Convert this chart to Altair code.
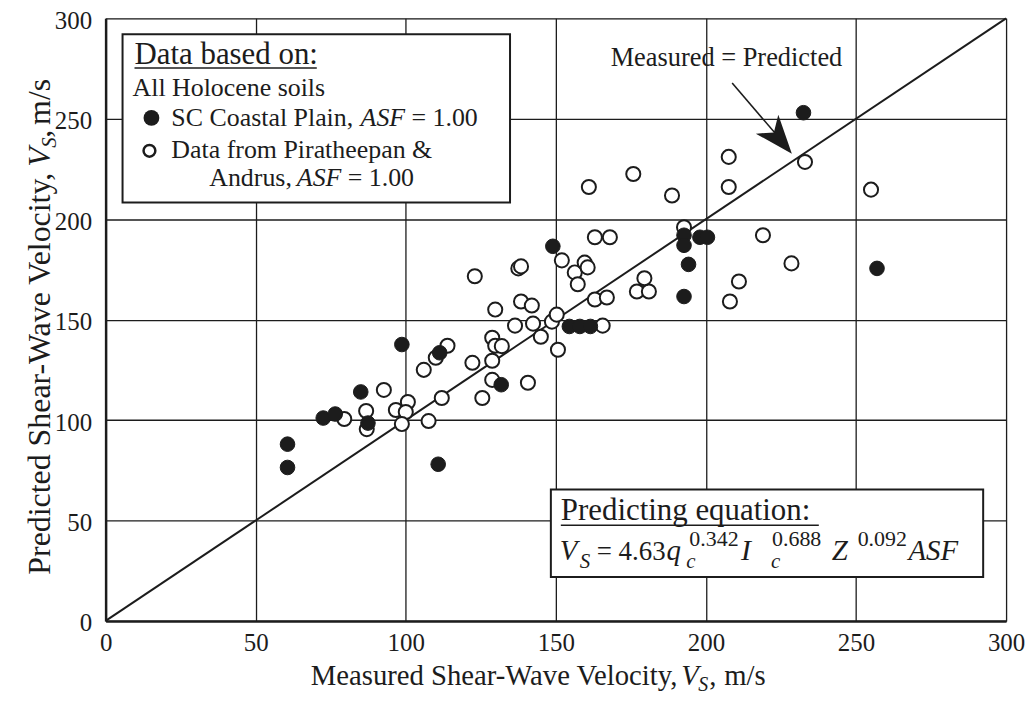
import altair as alt
import pandas as pd

# ---------------- data ----------------
sc_x = [60.6, 60.6, 72.5, 76.5, 85.0, 87.4, 98.7, 110.8, 111.3, 131.8, 149.0,
        154.5, 158.0, 161.5, 192.7, 192.7, 198.0, 200.5, 194.2, 192.7, 232.5, 257.0]
sc_y = [88.0, 76.4, 101.0, 103.0, 114.0, 98.5, 137.6, 78.0, 133.5, 117.6, 186.5,
        146.6, 146.6, 146.6, 192.0, 187.0, 191.0, 191.0, 177.5, 161.5, 253.0, 175.5]

pa_x = [79.5, 86.8, 87.0, 92.7, 96.7, 100.7, 100.0, 98.7, 107.6, 106.0,
        110.0, 113.9, 112.0, 122.2, 125.5, 128.8, 128.8, 128.8, 129.8, 132.0,
        140.7, 123.0, 137.5, 138.4, 129.8, 138.4, 142.0, 136.4, 142.4, 145.0,
        148.7, 150.3, 150.7, 165.6, 152.0, 156.3, 159.6, 160.6, 157.3, 163.0,
        168.0, 163.0, 167.0, 177.0, 181.0, 179.5, 207.6, 207.6, 175.8, 161.0,
        188.7, 192.7, 219.0, 228.5, 211.0, 208.0, 233.0, 255.0]
pa_y = [100.5, 104.5, 95.5, 115.0, 105.0, 109.0, 104.0, 98.0, 99.5, 125.0,
        131.0, 137.0, 111.0, 128.5, 111.0, 120.0, 129.5, 141.0, 137.0, 136.8,
        118.6, 171.6, 175.5, 176.5, 155.0, 159.0, 157.0, 147.0, 148.0, 141.5,
        149.0, 152.5, 135.0, 147.0, 179.5, 173.5, 178.4, 176.0, 167.6, 191.0,
        191.0, 160.0, 161.0, 164.0, 164.0, 170.6, 231.0, 216.0, 222.5, 216.0,
        211.8, 196.0, 192.0, 178.0, 169.0, 159.0, 228.5, 214.7]

line_x = [0, 300]
line_y = [0, 300]
ticks = [0, 50, 100, 150, 200, 250, 300]

# ---------------- styling ----------------
FONT = "Liberation Serif"
INK = "#1c1c1c"
X0, Y0 = 106, 17  # plot origin on the page


def px(v):
    return v - X0


def py(v):
    return v - Y0


one = pd.DataFrame({"k": [0]})


def txt(s, x, y, size, italic=False, align="left", angle=0):
    mk = dict(text=s, font=FONT, fontSize=size, align=align,
              baseline="alphabetic", color=INK)
    if italic:
        mk["fontStyle"] = "italic"
    if angle:
        mk["angle"] = angle
    return alt.Chart(one).mark_text(**mk).encode(x=alt.value(px(x)), y=alt.value(py(y)))


def hline(x1, x2, y, w=1.5):
    return alt.Chart(one).mark_rule(color=INK, strokeWidth=w).encode(
        x=alt.value(px(x1)), x2=alt.value(px(x2)), y=alt.value(py(y)))


def box(x1, y1, x2, y2):
    return alt.Chart(one).mark_rect(fill="white", stroke=INK, strokeWidth=2).encode(
        x=alt.value(px(x1)), x2=alt.value(px(x2)),
        y=alt.value(py(y1)), y2=alt.value(py(y2)))


xscale = alt.Scale(domain=[0, 300], nice=False)
yscale = alt.Scale(domain=[0, 300], nice=False)
xaxis = alt.Axis(values=ticks, grid=True, gridColor=INK, gridWidth=1.3, gridOpacity=1,
                 domainColor=INK, domainWidth=2.5, ticks=False, labelFont=FONT,
                 labelFontSize=25, labelColor=INK, labelPadding=10, labelFlush=False,
                 title=None, format="d")
yaxis = alt.Axis(values=ticks, grid=True, gridColor=INK, gridWidth=1.3, gridOpacity=1,
                 domainColor=INK, domainWidth=2.5, ticks=False, labelFont=FONT,
                 labelFontSize=25, labelColor=INK, labelPadding=14, labelFlush=False,
                 labelOffset=2, title=None, format="d")
X = alt.X("x:Q", scale=xscale, axis=xaxis)
Y = alt.Y("y:Q", scale=yscale, axis=yaxis)

diag = alt.Chart(pd.DataFrame({"x": line_x, "y": line_y})).mark_line(
    color=INK, strokeWidth=2).encode(x=X, y=Y)

open_pts = alt.Chart(pd.DataFrame({"x": pa_x, "y": pa_y})).mark_point(
    shape="circle", size=200, filled=True, fill="white", stroke=INK, strokeWidth=2,
    opacity=1).encode(x=X, y=Y)

filled_pts = alt.Chart(pd.DataFrame({"x": sc_x, "y": sc_y})).mark_point(
    shape="circle", size=215, filled=True, fill=INK, stroke=INK, strokeWidth=1,
    opacity=1).encode(x=X, y=Y)

layers = [diag, open_pts, filled_pts]

# ---- legend box ----
layers += [
    box(123, 33, 512, 202),
    txt("Data based on:", 135, 63, 31),
    hline(135, 318, 67),
    txt("All Holocene soils", 133, 95, 26),
    alt.Chart(one).mark_point(shape="circle", size=250, filled=True, fill=INK,
                              opacity=1).encode(x=alt.value(px(152)), y=alt.value(py(117))),
    txt("SC Coastal Plain,", 172, 125, 26),
    txt("ASF", 362, 125, 26, italic=True),
    txt("= 1.00", 413, 125, 26),
    alt.Chart(one).mark_point(shape="circle", size=140, filled=True, fill="white",
                              stroke=INK, strokeWidth=2.5, opacity=1).encode(
        x=alt.value(px(150)), y=alt.value(py(150))),
    txt("Data from Piratheepan &", 172, 157, 26),
    txt("Andrus,", 210, 185, 26),
    txt("ASF", 298, 185, 26, italic=True),
    txt("= 1.00", 349, 185, 26),
]

# ---- equation box ----
layers += [
    box(553, 490, 987, 578),
    txt("Predicting equation:", 563, 521, 31),
    hline(563, 822, 526),
    txt("V", 562, 561, 29, italic=True),
    txt("S", 582, 569, 21, italic=True),
    txt("= 4.63", 599, 561, 27),
    txt("q", 669, 561, 29, italic=True),
    txt("c", 689, 569, 21, italic=True),
    txt("0.342", 692, 547, 22),
    txt("I", 744, 561, 30, italic=True),
    txt("c", 774, 569, 21, italic=True),
    txt("0.688", 775, 547, 22),
    txt("Z", 835, 561, 29, italic=True),
    txt("0.092", 861, 547, 22),
    txt("ASF", 912, 561, 29, italic=True),
]

# ---- measured = predicted annotation ----
layers += [
    txt("Measured = Predicted", 613, 65, 26.5),
    alt.Chart(one).mark_rule(color=INK, strokeWidth=1.6).encode(
        x=alt.value(px(735)), y=alt.value(py(82)),
        x2=alt.value(px(783)), y2=alt.value(py(138))),
    alt.Chart(one).mark_point(
        shape="M0,-1L0.76,1L0,0.45L-0.76,1Z", size=1500, angle=140, filled=True,
        fill=INK, strokeWidth=0, opacity=1).encode(
        x=alt.value(px(782.5)), y=alt.value(py(138.2))),
]

# ---- axis titles (mixed styles) ----
layers += [
    txt("Measured Shear-Wave Velocity,", 680, 686, 28.8, align="right"),
    txt("V", 684, 686, 28.8, italic=True),
    txt("S", 701, 692, 20, italic=True),
    txt(",", 712, 686, 28.8),
    txt("m/s", 727, 686, 28.8),
    txt("Predicted Shear-Wave Velocity,", 50, 172, 32, align="right", angle=270),
    txt("V", 50, 166, 32, italic=True, angle=270),
    txt("S", 56, 147, 21, italic=True, angle=270),
    txt(",", 50, 137, 32, angle=270),
    txt("m/s", 50, 124, 32, angle=270),
]

chart = alt.layer(*layers).properties(
    width=904, height=605,
    autosize=alt.AutoSizeParams(type="none"),
    padding={"left": 98, "top": 9, "right": 20, "bottom": 72},
).configure_view(stroke=INK, strokeWidth=2.5).configure(background="white")

chart.save("out.html", embed_options={"renderer": "svg", "actions": False})
